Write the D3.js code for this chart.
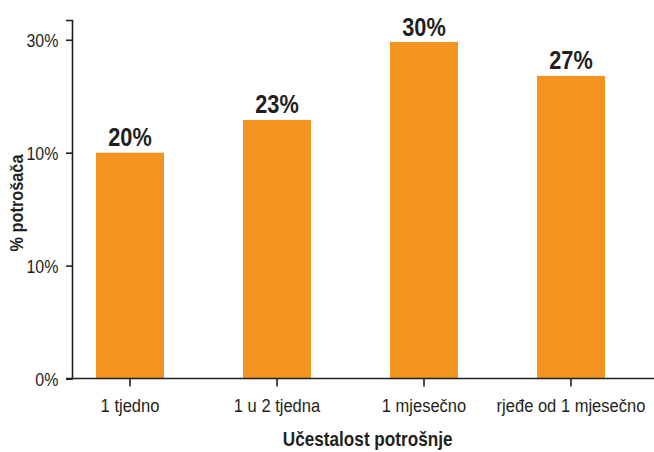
<!DOCTYPE html>
<html>
<head>
<meta charset="utf-8">
<script src="https://cdn.jsdelivr.net/npm/d3@7"></script>
<style>
  html, body { margin: 0; padding: 0; background: #fff; }
  svg text { font-family: "Liberation Sans", Arial, sans-serif; fill: #231f20; }
</style>
</head>
<body>
<svg id="chart" width="654" height="452"></svg>
<script>
const categories = ["1 tjedno", "1 u 2 tjedna", "1 mjesečno", "rjeđe od 1 mjesečno"];
const values = [20, 22.9, 29.8, 26.8];
const valueLabels = ["20%", "23%", "30%", "27%"];
const yTickValues = [0, 10, 20, 30];
const yTickLabels = ["0%", "10%", "10%", "30%"];
const xTitle = "Učestalost potrošnje";
const yTitle = "% potrošača";

const svg = d3.select("#chart");
const W = 654, H = 452;
const axisX = 72, baseY = 378.5;
const ink = "#231f20";
const orange = "#f39420";
const F = 0.85; // horizontal condensing to mimic a condensed face

function condense(sel, f) {
  sel.each(function () {
    const t = d3.select(this);
    const x = +(t.attr("x") || 0);
    t.attr("x", x / f);
    const tr = t.attr("transform") || "";
    t.attr("transform", (tr ? tr + " " : "") + `scale(${f},1)`);
  });
}

const y = d3.scaleLinear().domain([0, 31.75]).range([baseY, 20]);
const x = d3.scaleBand().domain(categories)
  .range([56.5, 644.5]).paddingInner(0.5374).paddingOuter(0.2687);

// bars
svg.append("g").selectAll("rect").data(values).join("rect")
  .attr("x", (d, i) => x(categories[i]))
  .attr("y", d => y(d))
  .attr("width", x.bandwidth())
  .attr("height", d => y(0) - y(d))
  .attr("fill", orange);

// value labels
const vl = svg.append("g").selectAll("text").data(values).join("text")
  .attr("x", (d, i) => x(categories[i]) + x.bandwidth() / 2)
  .attr("y", d => y(d) - 6.5)
  .attr("text-anchor", "middle")
  .attr("font-size", 26.5)
  .attr("font-weight", "bold")
  .text((d, i) => valueLabels[i]);
condense(vl, 0.82);

// y axis
const yAxis = svg.append("g").attr("transform", `translate(${axisX},0)`)
  .call(d3.axisLeft(y).tickValues(yTickValues).tickSizeOuter(0).tickSize(6).tickPadding(7.7)
    .tickFormat((d, i) => yTickLabels[i]));
yAxis.selectAll("path, line").attr("stroke", ink).attr("stroke-width", 1.6);
yAxis.attr("font-family", null).attr("font-size", null);
const yt = yAxis.selectAll("text").attr("font-size", 19).attr("dy", "0.36em");
condense(yt, 0.84);

// x axis
const xAxis = svg.append("g").attr("transform", `translate(0,${baseY})`)
  .call(d3.axisBottom(x).tickSizeOuter(0).tickSize(8));
xAxis.attr("font-family", null).attr("font-size", null);
xAxis.select(".domain").remove();
xAxis.selectAll("line").attr("stroke", ink).attr("stroke-width", 1.6);
const xt = xAxis.selectAll("text").attr("font-size", 19).attr("y", 33.2).attr("dy", 0);
condense(xt, 0.87);
svg.append("line")
  .attr("x1", axisX - 6).attr("x2", W)
  .attr("y1", baseY).attr("y2", baseY)
  .attr("stroke", ink).attr("stroke-width", 1.6);

// titles
const xtl = svg.append("text")
  .attr("x", 367.7).attr("y", 446.5)
  .attr("text-anchor", "middle")
  .attr("font-size", 19.5).attr("font-weight", "bold")
  .text(xTitle);
condense(xtl, 0.88);
svg.append("text")
  .attr("transform", `translate(23,203) rotate(-90) scale(0.86,1)`)
  .attr("text-anchor", "middle")
  .attr("font-size", 19).attr("font-weight", "bold")
  .text(yTitle);
</script>
</body>
</html>
